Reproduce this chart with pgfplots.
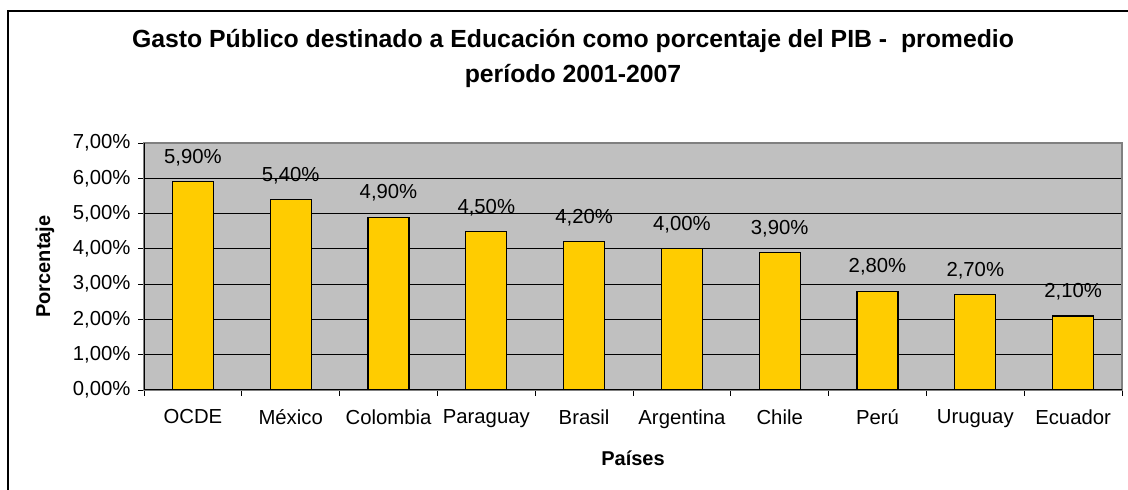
\documentclass[border=0pt]{standalone}
\usepackage{fontspec}
\setmainfont{Liberation Sans}
\usepackage{pgfplots}
\usepackage{pgfplotstable}
\pgfplotsset{compat=1.18}
\definecolor{barfill}{HTML}{FFCC00}
\definecolor{plotbg}{HTML}{C0C0C0}
\definecolor{plotframe}{HTML}{808080}

% gasto publico en educacion, % del PIB, promedio 2001-2007
\pgfplotstableread{
x val
0 5.9
1 5.4
2 4.9
3 4.5
4 4.2
5 4.0
6 3.9
7 2.8
8 2.7
9 2.1
}\gastotable

\begin{document}
\begin{tikzpicture}
\useasboundingbox (0pt,0pt) rectangle (1128pt,490pt);
\draw[line width=2.5pt] (8pt,-20pt) -- (8pt,479pt) -- (1150pt,479pt);
\node[font=\fontsize{24.8}{35}\selectfont\bfseries, align=center] at (573pt,432pt)
  {Gasto Público destinado a Educación como porcentaje del PIB -\ \ promedio\\período 2001-2007};
\begin{axis}[
  at={(144pt,100pt)}, anchor=south west,
  scale only axis, width=978pt, height=247pt,
  /pgf/number format/assume math mode=true,
  axis background/.style={fill=plotbg},
  axis line style={draw=plotframe, line width=1.2pt},
  ybar, bar width=41pt,
  xmin=-0.5, xmax=9.5, ymin=0, ymax=7,
  ytick={0,1,...,7},
  yticklabel={\pgfmathprintnumber[fixed,fixed zerofill,precision=2,use comma]{\tick}\%},
  xtick={-0.5,0.5,...,9.5}, xticklabels={},
  extra x ticks={0,1,...,9},
  extra x tick labels={OCDE,México,Colombia,Paraguay,Brasil,Argentina,Chile,Perú,Uruguay,Ecuador},
  extra x tick style={major tick length=0pt, xticklabel style={yshift=-16pt}},
  xtick pos=lower, ytick pos=left,
  tick align=outside, major tick length=6pt,
  tick style={draw=black, line width=0.8pt},
  tick label style={font=\fontsize{20.3}{23}\selectfont, text=black},
  yticklabel style={xshift=-4pt},
  ymajorgrids, major grid style={draw=black, line width=0.8pt},
  xlabel={\bfseries Países}, ylabel={\bfseries Porcentaje},
  label style={font=\fontsize{20}{23}\selectfont},
  xlabel style={at={(axis description cs:0.5,-0.2753)}, anchor=center},
  ylabel style={at={(axis description cs:-0.1012,0.5)}, anchor=center},
  point meta=y,
  nodes near coords={\pgfmathprintnumber[fixed,fixed zerofill,precision=2,use comma]{\pgfplotspointmeta}\%},
  every node near coord/.append style={font=\fontsize{20.3}{23}\selectfont, anchor=center, yshift=24pt},
  after end axis/.code={
    \draw[black, line width=1pt] (rel axis cs:0,0) -- (rel axis cs:1,0);
    \draw[black, line width=1pt] (rel axis cs:0,0) -- (rel axis cs:0,1);
  },
]
\addplot[draw=black, line width=1.2pt, fill=barfill] table[x=x, y=val] {\gastotable};
\end{axis}
\end{tikzpicture}
\end{document}
